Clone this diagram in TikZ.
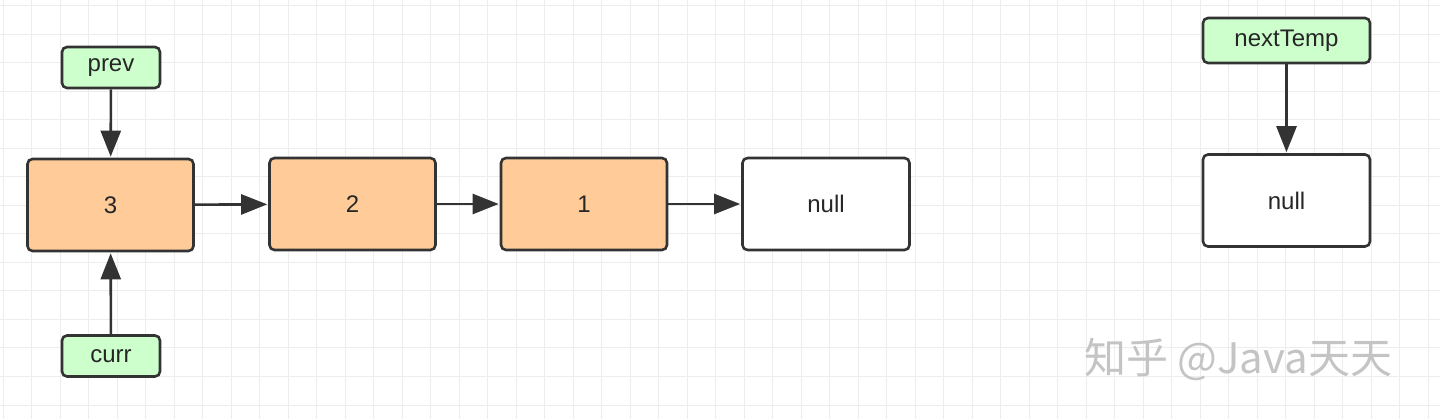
\documentclass[tikz,border=0pt]{standalone}
\usepackage{fontspec}
\setmainfont{Liberation Sans}
\newfontfamily\cjkfont{Noto Sans CJK SC}
\usetikzlibrary{arrows.meta}
\definecolor{gridc}{HTML}{EDEDED}
\definecolor{edge}{HTML}{333333}
\definecolor{greenfill}{HTML}{CCFFCC}
\definecolor{orangefill}{HTML}{FFCC99}
\definecolor{wm}{HTML}{C4C4C4}
\tikzset{
  x=1pt, y=-1pt,
  base/.style={draw=edge, line width=2.6pt, rounded corners=5pt, font=\fontsize{24}{28}\selectfont, text=black!85, inner sep=0pt},
  varbox/.style={base, fill=greenfill, minimum width=98pt, minimum height=41pt},
  listbox/.style={base, fill=orangefill, minimum width=166pt, minimum height=92pt},
  nullbox/.style={base, fill=white, minimum width=167pt, minimum height=92pt},
  link/.style={draw=edge, line width=2.6pt, -{Triangle[length=26pt, width=20pt]}, shorten >=1pt},
}
\begin{document}
\begin{tikzpicture}
\useasboundingbox (0,0) rectangle (1440,419);
\fill[white] (0,0) rectangle (1440,419);
\foreach \i in {0,...,51} {
  \draw[gridc, line width=1pt] ({28.5*\i+3},0) -- ({28.5*\i+3},419);
}
\foreach \j in {0,...,15} {
  \draw[gridc, line width=1pt] (0,{28.5*\j+6}) -- (1440,{28.5*\j+6});
}
\node[varbox] (prev) at (111,67.5) {prev};
\node[listbox] (n3) at (110.5,205) {3};
\node[listbox] (n2) at (352.5,204) {2};
\node[listbox] (n1) at (584,204) {1};
\node[nullbox] (null) at (826,204) {null};
\node[varbox] (curr) at (111,356) {curr};
\node[varbox, minimum width=167pt, minimum height=45pt] (next) at (1286.5,40.5) {nextTemp};
\node[nullbox] (null2) at (1286.5,200.5) {null};
\draw[link] (prev) -- (n3);
\draw[link] (curr) -- (n3);
\draw[link] (n3) -- (n2);
\draw[link] (n2) -- (n1);
\draw[link] (n1) -- (null);
\draw[link] (next) -- (null2);
\node[anchor=west, text=wm, font=\cjkfont\fontsize{42}{48}\selectfont, inner sep=0pt] (wmark) at (1084,359) {知乎 @Java天天};
\end{tikzpicture}
\end{document}
